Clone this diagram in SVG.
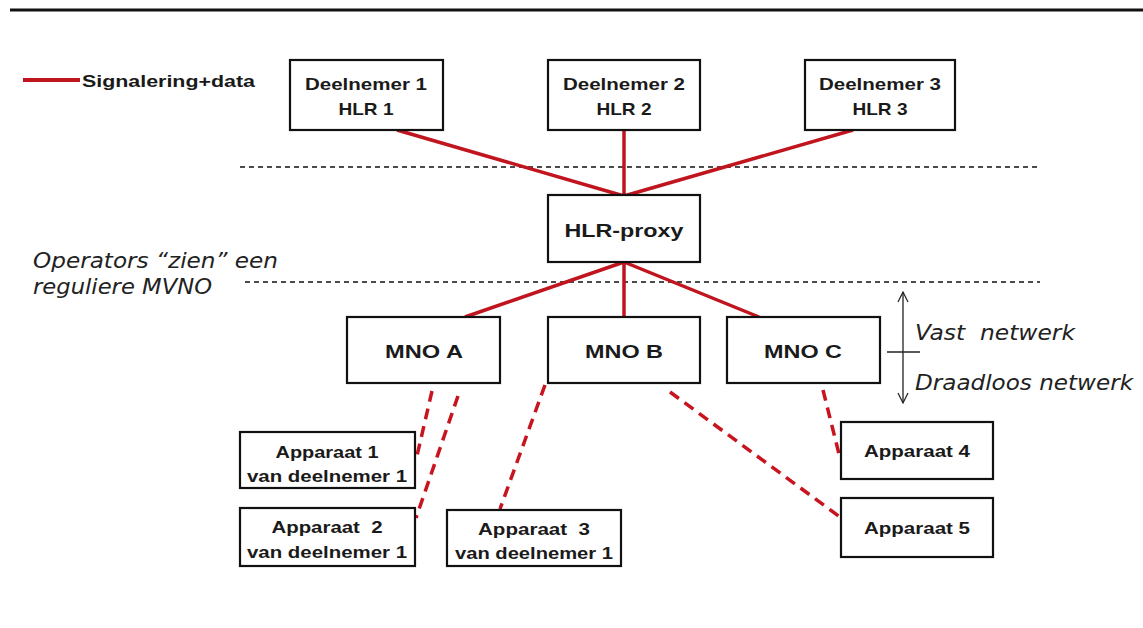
<svg xmlns="http://www.w3.org/2000/svg" width="1143" height="628" viewBox="0 0 1143 628">
<style>
.box{fill:#fff;stroke:#111;stroke-width:2.2}
.lbl{font-family:"Liberation Sans",Arial,sans-serif;font-weight:bold;fill:#1a1a1a;text-anchor:middle}
.it{font-family:"DejaVu Sans",Verdana,sans-serif;font-style:italic;fill:#222;font-size:22px}
.pre{white-space:pre}
.sig{stroke:#c0141e;stroke-width:3.5;fill:none}
.wl{stroke:#c8141e;stroke-width:3.5;fill:none;stroke-dasharray:11 7}
.sep{stroke:#111;stroke-width:1.7;stroke-dasharray:5 4;fill:none}
</style>
<defs>
<marker id="oa" viewBox="0 0 12 12" refX="11" refY="6" markerWidth="12" markerHeight="12" markerUnits="userSpaceOnUse" orient="auto-start-reverse">
<path d="M1,1 L11,6 L1,11" fill="none" stroke="#222" stroke-width="1.2"/>
</marker>
</defs>
<rect width="1143" height="628" fill="#fff"/>
<line x1="10" y1="10" x2="1143" y2="10" stroke="#111" stroke-width="3"/>

<g id="legend">
<line x1="23" y1="80" x2="80" y2="80" stroke="#c0141e" stroke-width="4"/>
<text class="lbl" x="82" y="87" font-size="16" style="text-anchor:start" textLength="173" lengthAdjust="spacingAndGlyphs">Signalering+data</text>
</g>

<g id="separators">
<line class="sep" x1="240" y1="167" x2="1040" y2="167"/>
<line class="sep" x1="245" y1="282" x2="1040" y2="282"/>
</g>

<g id="connectors">
<line class="sig" x1="397" y1="130" x2="624" y2="196"/>
<line class="sig" x1="624" y1="130" x2="624" y2="196"/>
<line class="sig" x1="853" y1="130" x2="624" y2="196"/>
<line class="sig" x1="624" y1="262" x2="465" y2="317"/>
<line class="sig" x1="624" y1="262" x2="624" y2="317"/>
<line class="sig" x1="624" y1="262" x2="759" y2="317"/>
<line class="wl" x1="432" y1="391" x2="416" y2="460"/>
<line class="wl" x1="458" y1="396" x2="416" y2="518"/>
<line class="wl" x1="545" y1="385" x2="500" y2="509"/>
<line class="wl" x1="670" y1="392" x2="840" y2="517"/>
<line class="wl" x1="823" y1="390" x2="840" y2="458"/>
</g>

<g id="deelnemer1"><rect class="box" x="290" y="60" width="153" height="70"/>
<text class="lbl" x="366" y="90" font-size="17" textLength="122" lengthAdjust="spacingAndGlyphs">Deelnemer 1</text>
<text class="lbl" x="366" y="115" font-size="17" textLength="55" lengthAdjust="spacingAndGlyphs">HLR 1</text></g>
<g id="deelnemer2"><rect class="box" x="548" y="60" width="152" height="70"/>
<text class="lbl" x="624" y="90" font-size="17" textLength="122" lengthAdjust="spacingAndGlyphs">Deelnemer 2</text>
<text class="lbl" x="624" y="115" font-size="17" textLength="55" lengthAdjust="spacingAndGlyphs">HLR 2</text></g>
<g id="deelnemer3"><rect class="box" x="805" y="60" width="150" height="70"/>
<text class="lbl" x="880" y="90" font-size="17" textLength="122" lengthAdjust="spacingAndGlyphs">Deelnemer 3</text>
<text class="lbl" x="880" y="115" font-size="17" textLength="55" lengthAdjust="spacingAndGlyphs">HLR 3</text></g>

<g id="hlrproxy"><rect class="box" x="548" y="195" width="152" height="67"/>
<text class="lbl" x="624" y="237" font-size="19" textLength="119" lengthAdjust="spacingAndGlyphs">HLR-proxy</text></g>

<g id="mnoA"><rect class="box" x="347" y="317" width="153" height="66"/>
<text class="lbl" x="424" y="358" font-size="19" textLength="78" lengthAdjust="spacingAndGlyphs">MNO A</text></g>
<g id="mnoB"><rect class="box" x="548" y="317" width="152" height="66"/>
<text class="lbl" x="624" y="358" font-size="19" textLength="78" lengthAdjust="spacingAndGlyphs">MNO B</text></g>
<g id="mnoC"><rect class="box" x="727" y="317" width="153" height="66"/>
<text class="lbl" x="803" y="358" font-size="19" textLength="78" lengthAdjust="spacingAndGlyphs">MNO C</text></g>

<g id="apparaat1"><rect class="box" x="240" y="432" width="175" height="56"/>
<text class="lbl" x="327" y="458" font-size="17" textLength="103" lengthAdjust="spacingAndGlyphs">Apparaat 1</text>
<text class="lbl" x="327" y="482" font-size="17" textLength="160" lengthAdjust="spacingAndGlyphs">van deelnemer 1</text></g>
<g id="apparaat2"><rect class="box" x="240" y="508" width="175" height="58"/>
<text class="lbl pre" x="327" y="533" font-size="17" textLength="111" lengthAdjust="spacingAndGlyphs">Apparaat  2</text>
<text class="lbl" x="327" y="558" font-size="17" textLength="160" lengthAdjust="spacingAndGlyphs">van deelnemer 1</text></g>
<g id="apparaat3"><rect class="box" x="447" y="510" width="174" height="56"/>
<text class="lbl pre" x="534" y="535" font-size="17" textLength="112" lengthAdjust="spacingAndGlyphs">Apparaat  3</text>
<text class="lbl" x="534" y="559" font-size="17" textLength="158" lengthAdjust="spacingAndGlyphs">van deelnemer 1</text></g>
<g id="apparaat4"><rect class="box" x="841" y="422" width="152" height="57"/>
<text class="lbl" x="917" y="457" font-size="17" textLength="106" lengthAdjust="spacingAndGlyphs">Apparaat 4</text></g>
<g id="apparaat5"><rect class="box" x="841" y="498" width="152" height="59"/>
<text class="lbl" x="917" y="534" font-size="17" textLength="106" lengthAdjust="spacingAndGlyphs">Apparaat 5</text></g>

<g id="annotations">
<text class="it" x="33" y="268" textLength="245" lengthAdjust="spacingAndGlyphs">Operators “zien” een</text>
<text class="it" x="33" y="294" textLength="179" lengthAdjust="spacingAndGlyphs">reguliere MVNO</text>
<line x1="903" y1="292" x2="903" y2="403" stroke="#222" stroke-width="1.3" marker-start="url(#oa)" marker-end="url(#oa)"/>
<line x1="887" y1="352" x2="920" y2="352" stroke="#222" stroke-width="1.3"/>
<text class="it pre" x="915" y="340" textLength="160" lengthAdjust="spacingAndGlyphs">Vast  netwerk</text>
<text class="it" x="915" y="390" textLength="218" lengthAdjust="spacingAndGlyphs">Draadloos netwerk</text>
</g>
</svg>
